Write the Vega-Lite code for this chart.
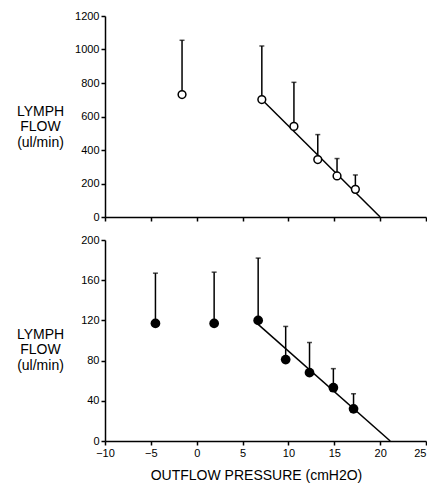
{
  "$schema": "https://vega.github.io/schema/vega-lite/v6.json",
  "padding": {"left": 16, "top": 10, "right": 0, "bottom": 2},
  "background": "white",
  "spacing": 12,
  "config": {
    "view": {"stroke": null},
    "font": "Liberation Sans",
    "axis": {
      "grid": false,
      "domainColor": "black",
      "tickColor": "black",
      "labelColor": "black",
      "titleColor": "black",
      "labelFont": "Liberation Sans",
      "titleFont": "Liberation Sans",
      "labelFontSize": 11,
      "titleFontSize": 14,
      "titleFontWeight": "normal",
      "domainWidth": 1.5,
      "tickWidth": 1.5,
      "tickSize": 4,
      "labelOverlap": false,
      "labelFlush": false,
      "tickCount": 20,
      "format": "d"
    }
  },
  "datasets": {
    "post": [
      {"p": -1.6, "flow": 731, "upper": 1055},
      {"p": 7.1, "flow": 701, "upper": 1021},
      {"p": 10.6, "flow": 541, "upper": 804},
      {"p": 13.2, "flow": 343, "upper": 492},
      {"p": 15.3, "flow": 245, "upper": 349},
      {"p": 17.3, "flow": 165, "upper": 251}
    ],
    "postfit": [
      {"p": 7.1, "flow": 701},
      {"p": 20.0, "flow": 0}
    ],
    "base": [
      {"p": -4.5, "flow": 117, "upper": 167},
      {"p": 1.9, "flow": 117, "upper": 168},
      {"p": 6.7, "flow": 120, "upper": 182},
      {"p": 9.7, "flow": 81, "upper": 114},
      {"p": 12.3, "flow": 68, "upper": 98},
      {"p": 14.9, "flow": 53, "upper": 72},
      {"p": 17.1, "flow": 32, "upper": 47}
    ],
    "basefit": [
      {"p": 6.7, "flow": 116},
      {"p": 21.1, "flow": 0}
    ]
  },
  "vconcat": [
    {
      "width": 321,
      "height": 201,
      "layer": [
        {
          "data": {"name": "post"},
          "mark": {"type": "rule", "color": "black", "strokeWidth": 1.5},
          "encoding": {
            "x": {"field": "p", "type": "quantitative", "scale": {"domain": [-10, 25], "nice": false},
              "axis": {"values": [-10, -5, 0, 5, 10, 15, 20, 25], "tickCount": 20, "labels": false, "title": null}},
            "y": {"field": "flow", "type": "quantitative", "scale": {"domain": [0, 1200], "nice": false},
              "axis": {"values": [0, 200, 400, 600, 800, 1000, 1200], "tickCount": 20, "labelOverlap": false, "labelFlush": false,
                "title": ["LYMPH", "FLOW", "(ul/min)"], "titleAngle": 0, "titleAlign": "center",
                "titleBaseline": "middle", "titleX": -65, "titleY": 95, "titleLineHeight": 15.5}},
            "y2": {"field": "upper"}
          }
        },
        {
          "data": {"name": "post"},
          "mark": {"type": "tick", "orient": "horizontal", "color": "black", "size": 5, "thickness": 1.5},
          "encoding": {
            "x": {"field": "p", "type": "quantitative"},
            "y": {"field": "upper", "type": "quantitative"}
          }
        },
        {
          "data": {"name": "postfit"},
          "mark": {"type": "line", "color": "black", "strokeWidth": 1.5},
          "encoding": {
            "x": {"field": "p", "type": "quantitative"},
            "y": {"field": "flow", "type": "quantitative"}
          }
        },
        {
          "data": {"name": "post"},
          "mark": {"type": "point", "shape": "circle", "filled": false, "fill": "white", "fillOpacity": 1, "stroke": "black", "strokeWidth": 1.5, "size": 60, "opacity": 1},
          "encoding": {
            "x": {"field": "p", "type": "quantitative"},
            "y": {"field": "flow", "type": "quantitative"}
          }
        },
        {
          "mark": {"type": "text", "text": ["140 min. POST", "INFUSION"], "fontSize": 13, "align": "center", "baseline": "middle", "lineHeight": 15, "color": "black"},
          "encoding": {
            "x": {"datum": 17.6, "type": "quantitative"},
            "y": {"datum": 1004, "type": "quantitative"}
          }
        }
      ]
    },
    {
      "width": 321,
      "height": 201,
      "layer": [
        {
          "data": {"name": "base"},
          "mark": {"type": "rule", "color": "black", "strokeWidth": 1.5},
          "encoding": {
            "x": {"field": "p", "type": "quantitative", "scale": {"domain": [-10, 25], "nice": false},
              "axis": {"values": [-10, -5, 0, 5, 10, 15, 20, 25], "tickCount": 20, "labelOverlap": false, "labelFlush": false,
                "labelAlign": {"condition": {"test": "datum.value >= 25", "value": "right"}, "value": "center"},
                "title": "OUTFLOW PRESSURE (cmH2O)", "titlePadding": 10, "titleX": 151, "titleAlign": "center"}},
            "y": {"field": "flow", "type": "quantitative", "scale": {"domain": [0, 200], "nice": false},
              "axis": {"values": [0, 40, 80, 120, 160, 200], "tickCount": 20, "labelOverlap": false, "labelFlush": false,
                "title": ["LYMPH", "FLOW", "(ul/min)"], "titleAngle": 0, "titleAlign": "center",
                "titleBaseline": "middle", "titleX": -65, "titleY": 94, "titleLineHeight": 15.5}},
            "y2": {"field": "upper"}
          }
        },
        {
          "data": {"name": "base"},
          "mark": {"type": "tick", "orient": "horizontal", "color": "black", "size": 5, "thickness": 1.5},
          "encoding": {
            "x": {"field": "p", "type": "quantitative"},
            "y": {"field": "upper", "type": "quantitative"}
          }
        },
        {
          "data": {"name": "basefit"},
          "mark": {"type": "line", "color": "black", "strokeWidth": 1.5},
          "encoding": {
            "x": {"field": "p", "type": "quantitative"},
            "y": {"field": "flow", "type": "quantitative"}
          }
        },
        {
          "data": {"name": "base"},
          "mark": {"type": "point", "shape": "circle", "filled": true, "color": "black", "size": 95, "opacity": 1},
          "encoding": {
            "x": {"field": "p", "type": "quantitative"},
            "y": {"field": "flow", "type": "quantitative"}
          }
        },
        {
          "mark": {"type": "text", "text": "BASELINE", "fontSize": 14, "align": "center", "baseline": "middle", "color": "black"},
          "encoding": {
            "x": {"datum": 16.7, "type": "quantitative"},
            "y": {"datum": 158, "type": "quantitative"}
          }
        }
      ]
    }
  ]
}
